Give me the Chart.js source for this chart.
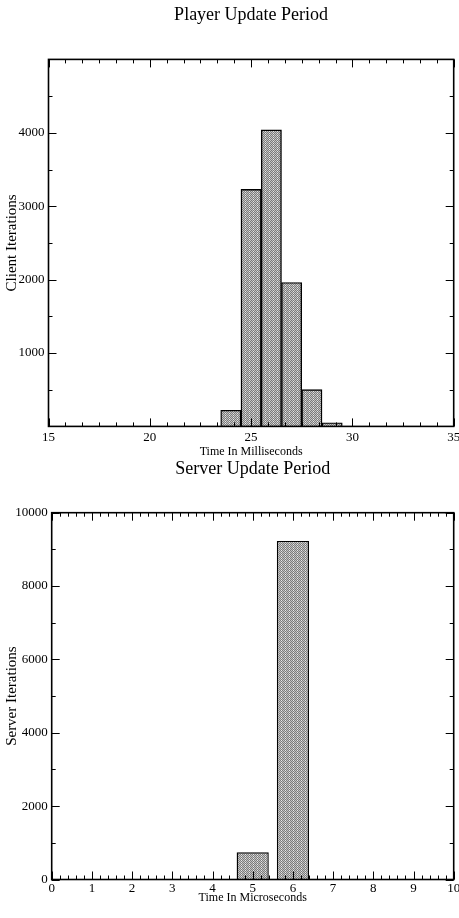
<!DOCTYPE html>
<html>
<head>
<meta charset="utf-8">
<title>Update Period Histograms</title>
<script src="https://cdn.jsdelivr.net/npm/chart.js@4"></script>
<style>
  html, body { margin: 0; padding: 0; background: #fff; }
  body { width: 459px; height: 918px; position: relative; overflow: hidden; }
  .box { position: absolute; left: 0; width: 459px; }
  #topBox { top: 0; height: 460px; }
  #bottomBox { top: 455px; height: 463px; }
</style>
</head>
<body>
<div class="box" id="topBox"><canvas id="playerChart"></canvas></div>
<div class="box" id="bottomBox"><canvas id="serverChart"></canvas></div>

<script>
// --- data ---
const playerTimes = [24, 25, 26, 27, 28, 29];          // bin centres, ms
const playerCounts = [220, 3230, 4040, 1960, 500, 50];
const playerXTicks = [15, 20, 25, 30, 35];
const playerYTicks = [1000, 2000, 3000, 4000];

const serverTimes = [5, 6];                             // bin centres, us
const serverCounts = [740, 9230];
const serverXTicks = [0, 1, 2, 3, 4, 5, 6, 7, 8, 9, 10];
const serverYTicks = [0, 2000, 4000, 6000, 8000, 10000];

const FONT = "'Liberation Serif', 'Times New Roman', serif";

// --- stipple fill like the old xmgrace pattern ---
function stipple() {
  const c = document.createElement("canvas");
  c.width = 4; c.height = 4;
  const g = c.getContext("2d");
  for (let y = 0; y < 4; y++) {
    for (let x = 0; x < 4; x++) {
      g.fillStyle = (x + y) % 2 ? "#7c7c7c" : (x % 4 === 1 ? "#e8e8e8" : "#c4c4c4");
      g.fillRect(x, y, 1, 1);
    }
  }
  return g.createPattern(c, "repeat");
}

// --- box around the plot with inside tick marks on all four sides ---
const framePlugin = {
  id: "frame",
  afterDatasetsDraw(chart, args, opts) {
    const { ctx, chartArea: a, scales: { x, y } } = chart;
    ctx.save();
    ctx.strokeStyle = "#000";
    ctx.lineWidth = 1;
    ctx.beginPath();

    const xn = Math.round((x.max - x.min) / opts.xStep * opts.xSub);
    for (let i = 0; i <= xn; i++) {
      const px = Math.round(x.getPixelForValue(x.min + i * opts.xStep / opts.xSub)) + 0.5;
      const len = i % opts.xSub === 0 ? 8 : 4;
      ctx.moveTo(px, a.bottom); ctx.lineTo(px, a.bottom - len);
      ctx.moveTo(px, a.top); ctx.lineTo(px, a.top + len);
    }

    const yn = Math.round((y.max - y.min) / opts.yStep * opts.ySub);
    for (let i = 0; i <= yn; i++) {
      const py = Math.round(y.getPixelForValue(y.min + i * opts.yStep / opts.ySub)) + 0.5;
      const len = i % opts.ySub === 0 ? 8 : 4;
      ctx.moveTo(a.left, py); ctx.lineTo(a.left + len, py);
      ctx.moveTo(a.right, py); ctx.lineTo(a.right - len, py);
    }
    ctx.stroke();

    ctx.lineWidth = 1.6;
    ctx.strokeRect(a.left, a.top, a.right - a.left, a.bottom - a.top);
    ctx.restore();
  }
};

function buildConfig(p) {
  return {
    type: "bar",
    data: {
      datasets: [{
        data: p.times.map((t, i) => ({ x: t, y: p.counts[i] })),
        backgroundColor: stipple(),
        borderColor: "#000",
        borderWidth: 1.4,
        barPercentage: p.barPct,
        categoryPercentage: 1
      }]
    },
    options: {
      responsive: true,
      maintainAspectRatio: false,
      animation: false,
      events: [],
      layout: { padding: { left: 0, right: p.right, top: 0, bottom: 0 } },
      plugins: {
        legend: { display: false },
        tooltip: { enabled: false },
        title: {
          display: true,
          fullSize: false,
          text: p.title,
          color: "#000",
          font: { family: FONT, size: 18, weight: "normal" },
          padding: { top: p.titleTop, bottom: p.titleBottom }
        },
        frame: p.frame
      },
      scales: {
        x: {
          type: "linear",
          offset: false,
          min: p.xTicks[0],
          max: p.xTicks[p.xTicks.length - 1],
          afterBuildTicks: s => { s.ticks = p.xTicks.map(v => ({ value: v })); },
          afterFit: s => { s.height = p.xHeight; s.paddingLeft = 0; s.paddingRight = 0; },
          grid: { display: false, drawTicks: false },
          border: { display: false },
          ticks: {
            color: "#000",
            padding: p.xPad,
            maxRotation: 0,
            autoSkip: false,
            callback: v => String(v),
            font: { family: FONT, size: 13 }
          },
          title: {
            display: true,
            text: p.xTitle,
            color: "#000",
            font: { family: FONT, size: 12 },
            padding: { top: 0, bottom: p.xTitleBottom }
          }
        },
        y: {
          min: p.yMin,
          max: p.yMax,
          afterBuildTicks: s => { s.ticks = p.yTicks.map(v => ({ value: v })); },
          afterFit: s => { s.width = p.yWidth; s.paddingTop = 0; s.paddingBottom = 0; },
          grid: { display: false, drawTicks: false },
          border: { display: false },
          ticks: {
            color: "#000",
            padding: 4,
            autoSkip: false,
            callback: v => String(v),
            font: { family: FONT, size: 13 }
          },
          title: {
            display: true,
            text: p.yTitle,
            color: "#000",
            font: { family: FONT, size: 15 },
            padding: { top: 3.5, bottom: 0 }
          }
        }
      }
    },
    plugins: [framePlugin]
  };
}

// --- Player (client) chart ---
new Chart(document.getElementById("playerChart"), buildConfig({
  title: "Player Update Period",
  times: playerTimes,
  counts: playerCounts,
  xTicks: playerXTicks,
  yTicks: playerYTicks,
  yMin: 0,
  yMax: 5000,
  barPct: 1,
  xTitle: "Time In Milliseconds",
  yTitle: "Client Iterations",
  titleTop: 4.2,
  titleBottom: 33.6,
  xHeight: 33.6,
  xPad: 3,
  xTitleBottom: 0.8,
  yWidth: 48.5,
  right: 5.3,
  frame: { xStep: 5, xSub: 6, yStep: 1000, ySub: 2 }
}));

// --- Server chart ---
new Chart(document.getElementById("serverChart"), buildConfig({
  title: "Server Update Period",
  times: serverTimes,
  counts: serverCounts,
  xTicks: serverXTicks,
  yTicks: serverYTicks,
  yMin: 0,
  yMax: 10000,
  barPct: 0.8,
  xTitle: "Time In Microseconds",
  yTitle: "Server Iterations",
  titleTop: 3.2,
  titleBottom: 32.9,
  xHeight: 38.5,
  xPad: 1,
  xTitleBottom: 12.8,
  yWidth: 51.7,
  right: 5.3,
  frame: { xStep: 1, xSub: 5, yStep: 2000, ySub: 2 }
}));
</script>
</body>
</html>
